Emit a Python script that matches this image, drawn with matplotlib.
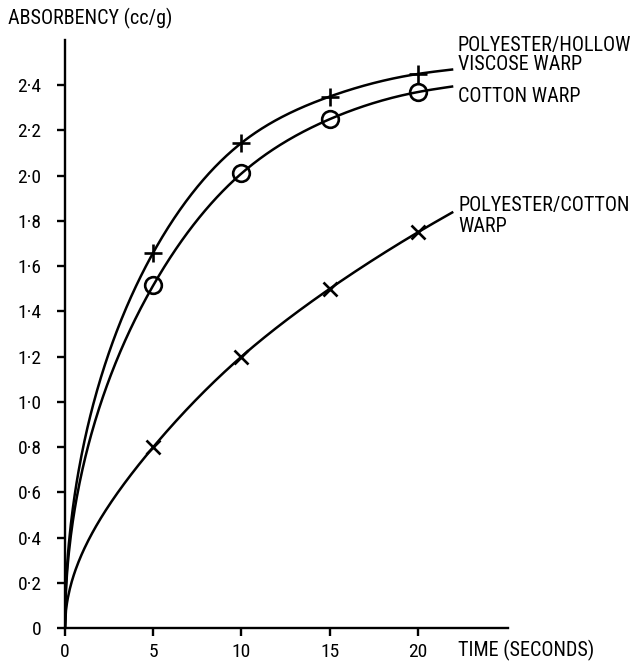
import numpy as np
import matplotlib
matplotlib.use("Agg")
import matplotlib.pyplot as plt
from matplotlib import font_manager

names = {f.name for f in font_manager.fontManager.ttflist}
FAM = [f for f in ["Liberation Sans Narrow", "DejaVu Sans Condensed", "Roboto Condensed"] if f in names] + ["DejaVu Sans"]
plt.rcParams['font.family'] = FAM

# data
time_s = [0, 5, 10, 15, 20]
hollow_viscose = [0.0, 1.66, 2.145, 2.35, 2.45]
cotton = [0.0, 1.515, 2.01, 2.25, 2.37]
poly_cotton = [0.0, 0.80, 1.20, 1.50, 1.75]
curve_end_t = 22
curve_end = {"hv": 2.47, "c": 2.395, "pc": 1.84}
yticks = [0, 0.2, 0.4, 0.6, 0.8, 1.0, 1.2, 1.4, 1.6, 1.8, 2.0, 2.2, 2.4]
ytick_labels = ["0", "0·2", "0·4", "0·6", "0·8", "1·0", "1·2", "1·4", "1·6", "1·8", "2·0", "2·2", "2·4"]
xticks = [0, 5, 10, 15, 20]


def spline(xk, yk, xs):
    xk = np.asarray(xk, float); yk = np.asarray(yk, float)
    n = len(xk); h = np.diff(xk)
    A = np.zeros((n, n)); r = np.zeros(n)
    A[0, 0] = 1; A[-1, -1] = 1
    for i in range(1, n - 1):
        A[i, i - 1] = h[i - 1]; A[i, i] = 2 * (h[i - 1] + h[i]); A[i, i + 1] = h[i]
        r[i] = 6 * ((yk[i + 1] - yk[i]) / h[i] - (yk[i] - yk[i - 1]) / h[i - 1])
    M = np.linalg.solve(A, r)
    idx = np.clip(np.searchsorted(xk, xs) - 1, 0, n - 2)
    x0 = xk[idx]; x1 = xk[idx + 1]; hh = x1 - x0
    a = (x1 - xs) / hh; b = (xs - x0) / hh
    return a * yk[idx] + b * yk[idx + 1] + ((a ** 3 - a) * M[idx] + (b ** 3 - b) * M[idx + 1]) * hh ** 2 / 6


fig = plt.figure(figsize=(6.41, 6.63), dpi=100)
ax = fig.add_axes([65 / 641, 35 / 663, (508 - 65) / 641, (628 - 40) / 663])

ts = np.linspace(0, curve_end_t, 400)
for vals, key, mk, ms in [(hollow_viscose, "hv", "+", 13), (cotton, "c", "o", 12), (poly_cotton, "pc", "x", 10)]:
    tk = time_s + [curve_end_t]
    yk = vals + [curve_end[key]]
    ys = spline(np.sqrt(tk), yk, np.sqrt(ts))
    ax.plot(ts, ys, color="black", lw=1.8, solid_capstyle="butt")
    ax.plot(time_s[1:], vals[1:], ls="none", marker=mk, ms=ms, mew=1.9,
            mfc="none", mec="black", color="black")

ax.set_xlim(0, 25.1)
ax.set_ylim(0, 2.6)
for s in ["top", "right"]:
    ax.spines[s].set_visible(False)
for s in ["left", "bottom"]:
    ax.spines[s].set_linewidth(1.7)
ax.set_xticks(xticks)
ax.set_xticklabels([str(v) for v in xticks])
ax.set_yticks(yticks)
ax.set_yticklabels(ytick_labels)
ax.tick_params(axis="x", direction="out", length=6, width=1.7, pad=5, labelsize=14)
ax.tick_params(axis="y", direction="out", length=6, width=1.7, pad=11, labelsize=14)

fs = 14.5
fig.text(8 / 641, 1 - 18 / 663, "ABSORBENCY (cc/g)", fontsize=fs, ha="left", va="center")
fig.text(458 / 641, 1 - 650 / 663, "TIME (SECONDS)", fontsize=fs, ha="left", va="center")
fig.text(457 / 641, 1 - 45 / 663, "POLYESTER/HOLLOW", fontsize=fs, ha="left", va="center")
fig.text(458 / 641, 1 - 65 / 663, "VISCOSE WARP", fontsize=fs, ha="left", va="center")
fig.text(458 / 641, 1 - 97 / 663, "COTTON WARP", fontsize=fs, ha="left", va="center")
fig.text(458 / 641, 1 - 206 / 663, "POLYESTER/COTTON", fontsize=fs, ha="left", va="center")
fig.text(458 / 641, 1 - 227 / 663, "WARP", fontsize=fs, ha="left", va="center")

fig.savefig("out.png", dpi=100)
